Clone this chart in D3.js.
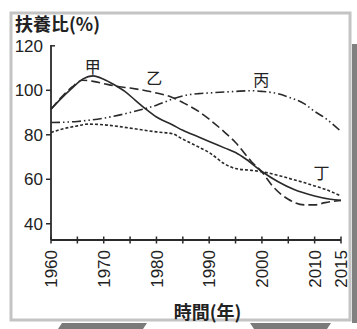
<!DOCTYPE html>
<html><head><meta charset="utf-8">
<script src="https://cdn.jsdelivr.net/npm/d3@7"></script>
<style>html,body{margin:0;padding:0;background:#fff;}svg{display:block;}</style>
</head><body>
<script>
// ---- data ----
const jiaYears = [1960,1962,1964,1966,1968,1970,1972,1974,1976,1978,1980,1983,1985,1988,1990,1993,1995,1997,2000,2003,2006,2010,2013,2015];
const jiaVals  = [91.5,96.5,101,105,106.5,105,102.5,99.5,95.5,91.5,88,84.5,82,79,77,74,72,69,63.5,59,55.5,52.5,51,50.5];
const yiYears  = [1960,1962,1964,1966,1968,1970,1972,1975,1978,1980,1983,1985,1988,1990,1993,1995,1998,2000,2002,2005,2008,2010,2012,2015];
const yiVals   = [91.5,97,101.5,104.5,104,103,102,101,99.8,98.8,96.8,94.5,90.5,87,81,76.5,68,63.3,57,51,48.5,48.5,49.5,50.5];
const bingYears= [1960,1965,1970,1975,1980,1983,1985,1988,1990,1995,1998,2000,2003,2005,2008,2010,2012,2015];
const bingVals = [85.5,86,87.5,90,93.3,96,97.5,98.5,98.8,99.5,99.8,99.5,98.5,97,94,90.5,87.5,81.5];
const dingYears= [1960,1962,1965,1967,1970,1975,1980,1983,1985,1988,1990,1993,1995,1998,2000,2003,2005,2008,2010,2012,2015];
const dingVals = [81,82.5,84,84.8,84.5,83,81.3,80.5,78,74.5,72,66.8,64.8,64,63.4,61.8,60.5,58.5,57,55.5,52.5];
const seriesNames = ["甲","乙","丙","丁"];
const labelYears  = [1967.9,1979.6,1999.9,2011.3];
const labelVals   = [110.3,105.3,104.4,62.6];
const yTicks = [40,60,80,100,120];
const xTicks = [1960,1965,1970,1975,1980,1985,1990,1995,2000,2005,2010,2015];
const xTickLabels = [1960,1970,1980,1990,2000,2010,2015];
const yTitle = "扶養比(%)";
const xTitle = "時間(年)";

const W=357,H=329;
const svg=d3.select("body").append("svg").attr("width",W).attr("height",H);
const FONT="'Noto Sans CJK TC','Noto Sans',sans-serif";
const NUMFONT="'Liberation Sans','Noto Sans',sans-serif";

// frame & decorations
svg.append("rect").attr("x",352).attr("y",44).attr("width",5).attr("height",279).attr("fill","#808080");
svg.append("rect").attr("x",11).attr("y",13).attr("width",339).attr("height",307)
  .attr("fill","#fff").attr("stroke","#c4c4c4").attr("stroke-width",3);
svg.append("polygon").attr("points","62,323 147,323 143,329 58,329").attr("fill","#7a7a7a");
svg.append("polygon").attr("points","250,323 331,323 327,329 254,329").attr("fill","#7a7a7a");

const x=d3.scaleLinear().domain([1960,2015]).range([51,341]);
const y=d3.scaleLinear().domain([32.7,120]).range([240,45.8]);

const ink="#2a2a2a";
// y axis
svg.append("line").attr("x1",x(1960)).attr("x2",x(1960)).attr("y1",y(120)).attr("y2",y(32.7))
  .attr("stroke",ink).attr("stroke-width",1.8);
svg.append("line").attr("x1",x(1960)-0.9).attr("x2",x(1960)+4).attr("y1",y(120)).attr("y2",y(120))
  .attr("stroke",ink).attr("stroke-width",1.5);
yTicks.filter(v=>v<120).forEach(v=>{
  svg.append("line").attr("x1",x(1960)-5).attr("x2",x(1960)).attr("y1",y(v)).attr("y2",y(v))
    .attr("stroke",ink).attr("stroke-width",1.5);
});
yTicks.forEach(v=>{
  svg.append("text").attr("x",x(1960)-8).attr("y",y(v)).attr("dy","0.36em")
    .attr("text-anchor","end").attr("font-family",NUMFONT).attr("font-size",17).attr("fill","#222").text(v);
});
// x axis
svg.append("line").attr("x1",x(1960)).attr("x2",x(2015)).attr("y1",y(32.7)).attr("y2",y(32.7))
  .attr("stroke",ink).attr("stroke-width",1.8);
xTicks.forEach(t=>{
  svg.append("line").attr("x1",x(t)).attr("x2",x(t)).attr("y1",y(32.7)-3.5).attr("y2",y(32.7)+3.5)
    .attr("stroke",ink).attr("stroke-width",1.5);
});
xTickLabels.forEach(t=>{
  svg.append("text").attr("transform",`translate(${x(t)},250) rotate(-90)`).attr("dy","0.36em")
    .attr("text-anchor","end").attr("font-family",NUMFONT).attr("font-size",17).attr("fill","#222").text(t);
});

// titles
svg.append("text").attr("x",15).attr("y",31).attr("font-family",FONT).attr("font-size",18)
  .attr("font-weight","bold").attr("fill","#222").text(yTitle);
svg.append("text").attr("x",207.5).attr("y",319).attr("text-anchor","middle").attr("font-family",FONT)
  .attr("font-size",18).attr("font-weight","bold").attr("fill","#222").text(xTitle);

// series
const line=d3.line().x(d=>x(d[0])).y(d=>y(d[1])).curve(d3.curveMonotoneX);
const series=[
  {yrs:jiaYears,vals:jiaVals,dash:null},
  {yrs:yiYears,vals:yiVals,dash:"9,4"},
  {yrs:bingYears,vals:bingVals,dash:"9,3,1.5,3,1.5,3"},
  {yrs:dingYears,vals:dingVals,dash:"3,2"}
];
series.forEach(s=>{
  const pts=s.yrs.map((yr,i)=>[yr,s.vals[i]]);
  const p=svg.append("path").attr("d",line(pts)).attr("fill","none").attr("stroke",ink).attr("stroke-width",1.6);
  if(s.dash) p.attr("stroke-dasharray",s.dash);
});
seriesNames.forEach((n,i)=>{
  svg.append("text").attr("x",x(labelYears[i])).attr("y",y(labelVals[i])).attr("dy","0.36em")
    .attr("text-anchor","middle").attr("font-family",FONT).attr("font-size",16).attr("fill","#222").text(n);
});
</script>
</body></html>
